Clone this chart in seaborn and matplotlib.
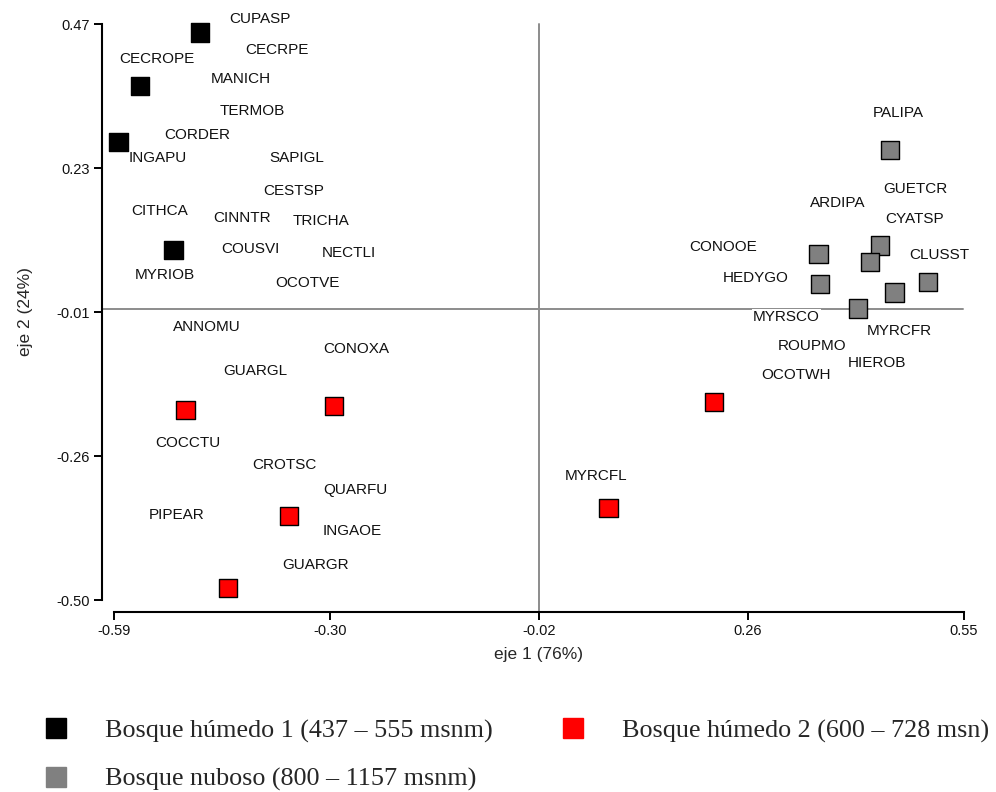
import matplotlib
matplotlib.use("Agg")
import matplotlib.pyplot as plt
from matplotlib.lines import Line2D
import seaborn as sns
import pandas as pd

# ---- data ----
group_labels = ["Bosque húmedo 1 (437 – 555 msnm)",
                "Bosque húmedo 2 (600 – 728 msn)",
                "Bosque nuboso (800 – 1157 msnm)"]
group_colors = ["#000000", "#ff0000", "#808080"]

bh1_x = [-0.475, -0.555, -0.584, -0.510]
bh1_y = [0.456, 0.366, 0.271, 0.089]
bh2_x = [-0.494, -0.295, -0.355, -0.437, 0.215, 0.073]
bh2_y = [-0.180, -0.173, -0.359, -0.480, -0.167, -0.345]
bn_x = [0.451, 0.355, 0.357, 0.437, 0.424, 0.457, 0.502, 0.408]
bn_y = [0.258, 0.083, 0.032, 0.097, 0.069, 0.018, 0.035, -0.009]

species = ["CUPASP", "CECRPE", "CECROPE", "MANICH", "TERMOB", "CORDER", "INGAPU",
           "SAPIGL", "CESTSP", "CITHCA", "CINNTR", "TRICHA", "COUSVI", "NECTLI",
           "MYRIOB", "OCOTVE", "ANNOMU", "CONOXA", "GUARGL", "COCCTU", "CROTSC",
           "QUARFU", "PIPEAR", "INGAOE", "GUARGR", "PALIPA", "GUETCR", "ARDIPA",
           "CYATSP", "CONOOE", "CLUSST", "HEDYGO", "MYRSCO", "MYRCFR", "ROUPMO",
           "HIEROB", "OCOTWH", "MYRCFL"]
sp_x = [-0.436, -0.414, -0.583, -0.460, -0.449, -0.522, -0.570,
        -0.382, -0.390, -0.567, -0.457, -0.350, -0.446, -0.312,
        -0.562, -0.374, -0.511, -0.310, -0.444, -0.535, -0.404,
        -0.310, -0.543, -0.310, -0.365, 0.428, 0.442, 0.343,
        0.445, 0.182, 0.477, 0.227, 0.267, 0.420, 0.300,
        0.394, 0.278, 0.015]
sp_y = [0.478, 0.427, 0.411, 0.377, 0.323, 0.283, 0.245,
        0.245, 0.189, 0.155, 0.144, 0.138, 0.091, 0.084,
        0.047, 0.033, -0.041, -0.078, -0.114, -0.236, -0.273,
        -0.314, -0.357, -0.384, -0.441, 0.320, 0.192, 0.168,
        0.141, 0.094, 0.081, 0.043, -0.024, -0.047, -0.073,
        -0.101, -0.121, -0.291]

x_ticks = [-0.59, -0.30, -0.02, 0.26, 0.55]
x_tick_labels = ["-0.59", "-0.30", "-0.02", "0.26", "0.55"]
y_ticks = [-0.50, -0.2575, -0.015, 0.2275, 0.47]
y_tick_labels = ["-0.50", "-0.26", "-0.01", "0.23", "0.47"]
x_ref = -0.02
y_ref = -0.01
x_label = "eje 1 (76%)"
y_label = "eje 2 (24%)"

# ---- build table ----
sites = pd.DataFrame({
    "x": bh1_x + bh2_x + bn_x,
    "y": bh1_y + bh2_y + bn_y,
    "grupo": [group_labels[0]] * len(bh1_x) + [group_labels[1]] * len(bh2_x)
             + [group_labels[2]] * len(bn_x),
})

sns.set_theme(style="ticks")
plt.rcParams["font.family"] = ["Liberation Sans", "DejaVu Sans"]

fig = plt.figure(figsize=(9.96, 7.92), dpi=100)
W, H = 996, 792
ax = fig.add_axes([114 / W, 1 - 600 / H, 850 / W, 576 / H])

# reference lines
ax.axvline(x_ref, ymin=-12 / 576, ymax=1, color="#8c8c8c", lw=1.4, clip_on=False, zorder=1)
ax.axhline(y_ref, xmin=-12 / 850, xmax=0.999, color="#8c8c8c", lw=1.4, clip_on=False, zorder=1)

sns.scatterplot(data=sites, x="x", y="y", hue="grupo", hue_order=group_labels,
                palette=dict(zip(group_labels, group_colors)), marker="s", s=175,
                edgecolor="black", linewidth=1.0, legend=False, ax=ax, zorder=4)
for c in ax.collections:
    c.set_clip_on(False)

for name, tx, ty in zip(species, sp_x, sp_y):
    ax.text(tx, ty, name, ha="left", va="center", fontsize=11, color="#111111",
            bbox=dict(facecolor="white", edgecolor="none", pad=1.0), zorder=3)

ax.set_xlim(x_ticks[0], x_ticks[-1])
ax.set_ylim(y_ticks[0], y_ticks[-1])
ax.set_xticks(x_ticks)
ax.set_xticklabels(x_tick_labels)
ax.set_yticks(y_ticks)
ax.set_yticklabels(y_tick_labels)
ax.set_xlabel(x_label, fontsize=12.5, labelpad=6)
ax.set_ylabel(y_label, fontsize=12.5, labelpad=17)
ax.tick_params(axis="both", labelsize=10.5, length=5.8, width=1.4, color="black",
               labelcolor="#111111", pad=3)

sns.despine(ax=ax, offset=8.6, trim=True)
for sp in ("left", "bottom"):
    ax.spines[sp].set_linewidth(1.5)
    ax.spines[sp].set_color("black")

# legend
handles = [Line2D([], [], marker="s", linestyle="none", markersize=14.4,
                  markerfacecolor=c, markeredgecolor=c) for c in group_colors]
order = [0, 2, 1]
fig.legend([handles[i] for i in order], [group_labels[i] for i in order],
           loc="upper left", bbox_to_anchor=(46 / W, 1 - 719 / H), ncol=2,
           frameon=False, borderpad=0, borderaxespad=0, handlelength=0.8,
           handletextpad=1.45, columnspacing=2.7, labelspacing=0.95,
           prop={"family": ["Liberation Serif", "DejaVu Serif"], "size": 18.8})

fig.savefig("out.png", dpi=100)
